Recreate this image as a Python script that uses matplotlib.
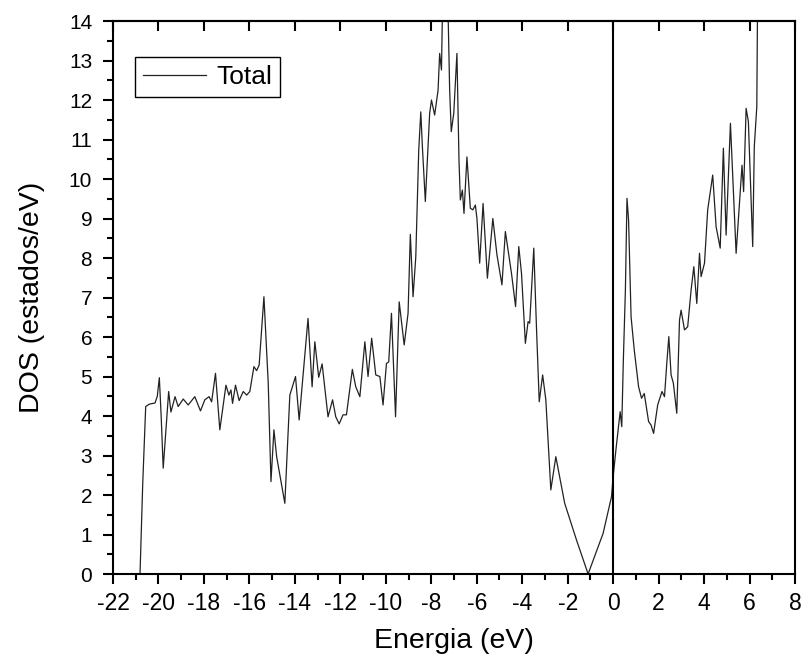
import numpy as np
import matplotlib
matplotlib.use("Agg")
import matplotlib.pyplot as plt
from matplotlib.ticker import MultipleLocator

plt.rcParams['font.family'] = ['Liberation Sans', 'DejaVu Sans']
plt.rcParams['axes.unicode_minus'] = False

# energy (eV) and total DOS (states/eV)
energy = [-22.0, -20.81, -20.69, -20.56, -20.4, -20.15, -20.05, -19.96, -19.88, -19.79,
          -19.65, -19.55, -19.45, -19.27, -19.13, -18.91, -18.69, -18.4, -18.15, -17.96,
          -17.77, -17.66, -17.49, -17.3, -17.03, -16.9, -16.81, -16.74, -16.61, -16.45,
          -16.27, -16.12, -15.98, -15.8, -15.68, -15.57, -15.36, -15.17, -15.05, -14.92,
          -14.8, -14.44, -14.22, -13.97, -13.81, -13.42, -13.24, -13.12, -12.95, -12.8,
          -12.54, -12.34, -12.2, -12.05, -11.88, -11.73, -11.47, -11.32, -11.14, -10.92,
          -10.78, -10.62, -10.44, -10.26, -10.12, -9.97, -9.87, -9.75, -9.57, -9.41,
          -9.19, -9.02, -8.92, -8.8, -8.68, -8.62, -8.55, -8.46, -8.39, -8.26,
          -8.14, -8.07, -7.99, -7.85, -7.7, -7.63, -7.55, -7.5, -7.27, -7.19,
          -7.12, -7.01, -6.87, -6.78, -6.72, -6.63, -6.56, -6.43, -6.28, -6.17,
          -6.06, -5.99, -5.87, -5.72, -5.53, -5.29, -5.11, -4.89, -4.74, -4.47,
          -4.29, -4.15, -4.03, -3.86, -3.74, -3.67, -3.49, -3.37, -3.25, -3.1,
          -2.96, -2.74, -2.52, -2.13, -1.61, -1.1, -0.44, -0.07, 0.0, 0.13,
          0.31, 0.38, 0.45, 0.54, 0.61, 0.68, 0.79, 0.93, 1.12, 1.25,
          1.37, 1.56, 1.67, 1.78, 1.96, 2.15, 2.26, 2.36, 2.45, 2.55,
          2.65, 2.8, 2.92, 2.99, 3.14, 3.28, 3.43, 3.55, 3.68, 3.8,
          3.87, 4.02, 4.16, 4.38, 4.53, 4.71, 4.85, 4.97, 5.16, 5.41,
          5.67, 5.74, 5.85, 5.95, 6.14, 6.21, 6.32, 6.36]
dos = [0.0, 0.0, 2.3, 4.24, 4.3, 4.33, 4.5, 4.97, 4.0, 2.68,
       3.8, 4.62, 4.1, 4.49, 4.24, 4.43, 4.28, 4.49, 4.13, 4.41,
       4.49, 4.36, 5.08, 3.65, 4.78, 4.53, 4.66, 4.32, 4.78, 4.39,
       4.62, 4.53, 4.62, 5.25, 5.15, 5.29, 7.02, 4.83, 2.34, 3.65,
       2.97, 1.79, 4.53, 5.0, 3.9, 6.47, 4.74, 5.88, 4.98, 5.32,
       3.98, 4.41, 3.98, 3.8, 4.03, 4.03, 5.18, 4.74, 4.49, 5.88,
       5.0, 5.97, 5.04, 5.0, 4.28, 5.33, 5.37, 6.6, 3.98, 6.89,
       5.8, 6.6, 8.6, 7.02, 8.03, 9.3, 10.73, 11.7, 10.82, 9.43,
       10.82, 11.66, 12.0, 11.62, 12.25, 13.18, 12.76, 14.5, 14.5, 12.25,
       11.2, 11.66, 13.18, 10.48, 9.47, 9.72, 9.13, 10.56, 9.26, 9.22,
       9.34, 9.0, 7.87, 9.38, 7.49, 9.0, 8.08, 7.32, 8.67, 7.61,
       6.77, 8.29, 7.61, 5.84, 6.39, 6.35, 8.25, 6.22, 4.36, 5.04,
       4.41, 2.13, 2.97, 1.79, 0.86, 0.0, 1.03, 1.96, 2.46, 3.18,
       4.11, 3.73, 5.42, 7.19, 9.51, 8.96, 6.51, 5.67, 4.74, 4.45,
       4.57, 3.86, 3.77, 3.56, 4.28, 4.62, 4.49, 5.33, 6.01, 5.04,
       4.83, 4.07, 6.43, 6.68, 6.18, 6.26, 7.19, 7.78, 6.85, 8.12,
       7.53, 7.87, 9.22, 10.1, 8.79, 8.25, 10.78, 8.58, 11.41, 8.12,
       10.35, 9.68, 11.79, 11.45, 8.29, 10.82, 11.83, 15.0]

fig = plt.figure(figsize=(8.04, 6.61), dpi=100)
ax = fig.add_axes([0.1405, 0.1316, 0.8483, 0.8366])

ax.plot(energy, dos, color='#222222', lw=0.9, label='Total')
ax.axvline(0, color='black', lw=1.5)

ax.set_xlim(-22, 8)
ax.set_ylim(0, 14)
ax.xaxis.set_major_locator(MultipleLocator(2))
ax.xaxis.set_minor_locator(MultipleLocator(1))
ax.yaxis.set_major_locator(MultipleLocator(1))
ax.yaxis.set_minor_locator(MultipleLocator(0.5))
ax.tick_params(which='major', direction='out', length=7, width=1.5)
ax.tick_params(which='minor', direction='out', length=4, width=1.5)
ax.tick_params(axis='x', which='major', pad=6, labelsize=16.5)
ax.tick_params(axis='y', which='major', pad=8, labelsize=15)
ax.tick_params(right=False, top=False, which='both')

# top axis: inward major ticks only
top = ax.secondary_xaxis('top')
top.xaxis.set_major_locator(MultipleLocator(2))
top.tick_params(direction='in', length=7, width=1.5, labeltop=False)
top.spines['top'].set_linewidth(1.5)

for s in ax.spines.values():
    s.set_linewidth(1.5)

ax.set_xlabel('Energia (eV)', fontsize=20.5, labelpad=9)
ax.set_ylabel('DOS (estados/eV)', fontsize=20.5, labelpad=17)

leg = ax.legend(loc='upper left', bbox_to_anchor=(0.032, 0.935), borderaxespad=0,
                fontsize=19, fancybox=False, edgecolor='black', handlelength=2.4,
                borderpad=0.3, handletextpad=0.4, framealpha=1)
leg.get_frame().set_linewidth(1.0)

plt.savefig('out.png', dpi=100)
